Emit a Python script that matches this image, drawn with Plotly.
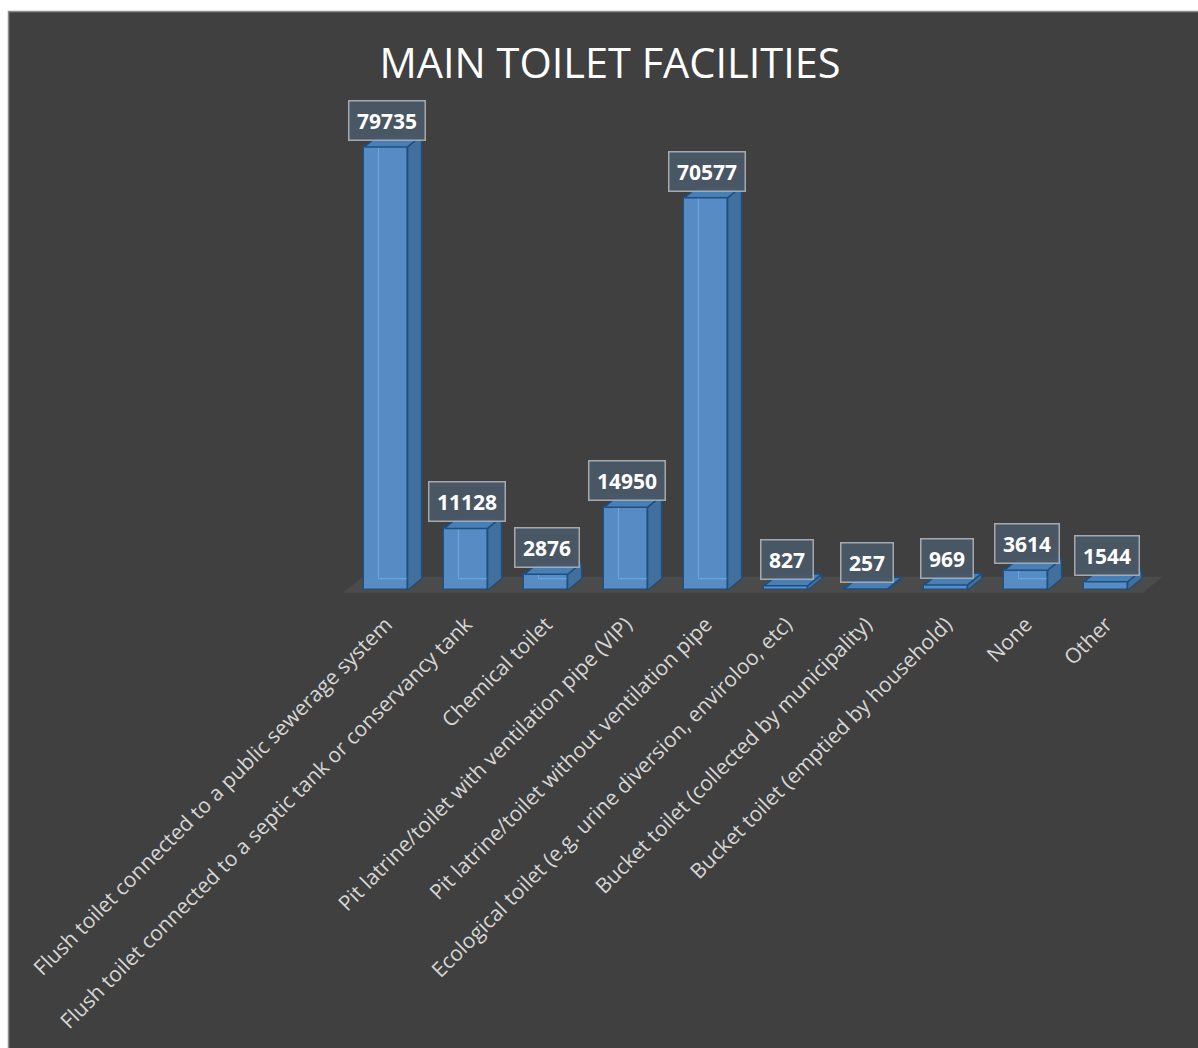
import plotly.graph_objects as go

# ---- data -------------------------------------------------------------
categories = [
    "Flush toilet connected to a public sewerage system",
    "Flush toilet connected to a septic tank or conservancy tank",
    "Chemical toilet",
    "Pit latrine/toilet with ventilation pipe (VIP)",
    "Pit latrine/toilet without ventilation pipe",
    "Ecological toilet (e.g. urine diversion, enviroloo, etc)",
    "Bucket toilet (collected by municipality)",
    "Bucket toilet (emptied by household)",
    "None",
    "Other",
]
households = [79735, 11128, 2876, 14950, 70577, 827, 257, 969, 3614, 1544]
title_text = "MAIN TOILET FACILITIES"

# ---- geometry / layout ------------------------------------------------
FIG_W, FIG_H = 1198, 1048
M_L, M_R, M_T, M_B = 322, 28, 62, 441
X_RANGE = [-0.8, 9.8]
Y_RANGE = [-3000, 95000]
PLOT_W = FIG_W - M_L - M_R
PLOT_H = FIG_H - M_T - M_B
px_per_x = PLOT_W / (X_RANGE[1] - X_RANGE[0])
px_per_y = PLOT_H / (Y_RANGE[1] - Y_RANGE[0])

HALF = 0.27                      # half width of the bar front face
DX = 14 / px_per_x               # depth offset (to the right)
DY = 11.6 / px_per_y             # depth offset (upwards)

FRONT = "rgba(88,146,206,0.93)"
SIDE = "#41709f"
TOP = "#4a7fb6"
EDGE = "#1f4f7f"
BG = "#404040"
FLOOR = "#4b4b4b"
FONT = "Open Sans"


def px_to_paper_x(px):
    return (px - M_L) / PLOT_W


def px_to_paper_y(py):
    return (M_T + PLOT_H - py) / PLOT_H


fig = go.Figure()

# dark chart area with its thin border
fig.add_shape(
    type="rect", xref="paper", yref="paper", layer="below",
    x0=px_to_paper_x(8.5), x1=px_to_paper_x(FIG_W + 5),
    y0=px_to_paper_y(FIG_H + 5), y1=px_to_paper_y(11.5),
    fillcolor=BG, line=dict(color="#8c8c8c", width=1.5),
)

# floor of the 3-D plot (in data coordinates, under the bars)
fx0, fx1 = -0.5 - 0.04, 9.5 - 0.04
fy0, fy1 = -2.5 / px_per_y, 13.5 / px_per_y
fdx = 20 / px_per_x
fig.add_shape(
    type="path", xref="x", yref="y", layer="below",
    path=(f"M {fx0},{fy0} L {fx1},{fy0} L {fx1 + fdx},{fy1} "
          f"L {fx0 + fdx},{fy1} Z"),
    fillcolor=FLOOR, line=dict(width=0),
)

# side faces, top faces and the back edges seen through the front face
side_x, side_y, top_x, top_y, back_x, back_y = [], [], [], [], [], []
for i, v in enumerate(households):
    r = i + HALF
    l = i - HALF
    side_x += [r, r + DX, r + DX, r, r, None]
    side_y += [0, DY, v + DY, v, 0, None]
    top_x += [l, r, r + DX, l + DX, l, None]
    top_y += [v, v, v + DY, v + DY, v, None]
    back_x += [l + DX, l + DX, r + DX, None]
    back_y += [v + DY, DY, DY, None]

fig.add_trace(go.Scatter(
    x=back_x, y=back_y, mode="lines",
    line=dict(color="rgba(120,175,230,0.8)", width=1),
    hoverinfo="skip", showlegend=False,
))
fig.add_trace(go.Scatter(
    x=side_x, y=side_y, fill="toself", fillcolor=SIDE, mode="lines",
    line=dict(color=EDGE, width=1.5), hoverinfo="skip", showlegend=False,
))
fig.add_trace(go.Scatter(
    x=top_x, y=top_y, fill="toself", fillcolor=TOP, mode="lines",
    line=dict(color=EDGE, width=1.5), hoverinfo="skip", showlegend=False,
))

# front faces
fig.add_trace(go.Bar(
    x=list(range(len(categories))), y=households, width=2 * HALF,
    marker=dict(color=FRONT, line=dict(color=EDGE, width=1.5)),
    showlegend=False,
))

# value labels in boxes above each bar
for i, v in enumerate(households):
    label = str(v)
    fig.add_annotation(
        x=i + 0.01, y=v, text=label, showarrow=False,
        xanchor="center", yanchor="bottom", yshift=6,
        width=12 * len(label) + 5,
        font=dict(family=FONT, size=21, color="white", weight="bold"),
        bgcolor="rgba(74,87,102,0.95)", bordercolor="#a6aaae",
        borderwidth=1.5, borderpad=5,
    )

fig.update_layout(
    width=FIG_W, height=FIG_H,
    margin=dict(l=M_L, r=M_R, t=M_T, b=M_B, pad=0),
    paper_bgcolor="white", plot_bgcolor="rgba(0,0,0,0)",
    title=dict(
        text=title_text, x=610 / FIG_W, xref="container", xanchor="center",
        y=1 - 63 / FIG_H, yref="container", yanchor="middle",
        font=dict(family=FONT, size=41.5, color="white"),
    ),
    xaxis=dict(
        range=X_RANGE, tickmode="array",
        tickvals=list(range(len(categories))), ticktext=categories,
        tickangle=-45, showgrid=False, zeroline=False, showline=False,
        ticks="", tickfont=dict(family=FONT, size=21, color="#d6d6d6"),
        fixedrange=True,
    ),
    yaxis=dict(
        range=Y_RANGE, showgrid=False, zeroline=False, showline=False,
        showticklabels=False, ticks="", fixedrange=True,
    ),
    bargap=0,
)

fig.write_html("out.html")
